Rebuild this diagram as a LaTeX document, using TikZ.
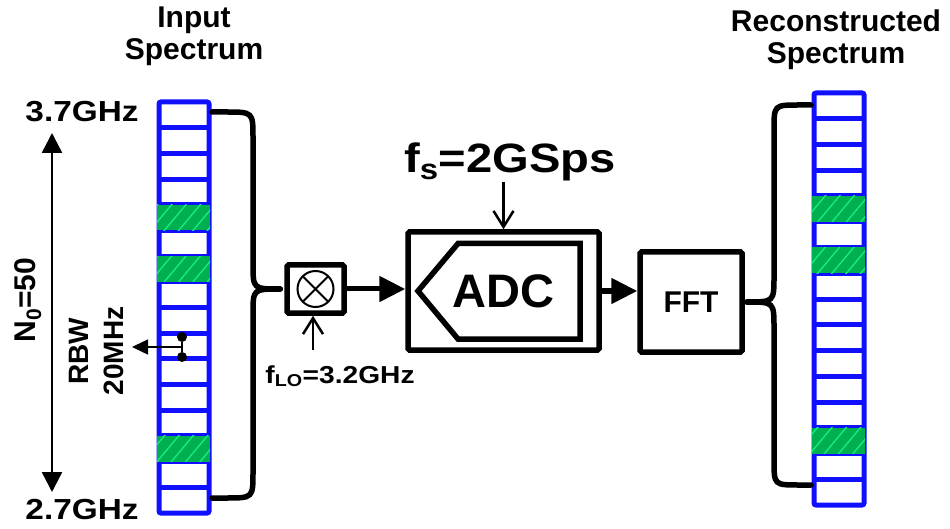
\documentclass[tikz,border=0pt]{standalone}
\usepackage{fontspec}
\setmainfont{Liberation Sans}
\newfontfamily\widesans[FakeStretch=1.15]{Liberation Sans}
\usetikzlibrary{arrows.meta,patterns.meta,positioning}

\definecolor{binblue}{RGB}{16,16,255}
\definecolor{bingreen}{RGB}{0,176,80}
\definecolor{hatchgreen}{RGB}{20,240,130}

\tikzset{
  lbl/.style={inner sep=0pt, font=\bfseries\fontsize{30}{32}\selectfont},
  widelbl/.style={inner sep=0pt, font=\widesans\bfseries\fontsize{#1}{#1}\selectfont},
  blk/.style={draw, line width=5.5pt, rounded corners=1.5pt, inner sep=0pt},
  bin/.style={binblue, line width=5pt},
  hit/.style={fill=bingreen, postaction={pattern={Lines[angle=50,distance=11pt,line width=1.3pt]}, pattern color=hatchgreen}},
  brace/.style={line width=5.5pt, line cap=round},
  sig/.style={line width=5pt, -{Triangle[length=26pt,width=25pt]}},
  ctrl/.style={line width=2.5pt, -{Straight Barb[length=16pt,width=20pt]}},
  dot/.style={circle, fill, inner sep=0pt, minimum size=10pt},
}

\begin{document}
\begin{tikzpicture}[x=1pt,y=-1pt]
\useasboundingbox (0,0) rectangle (950,529);
\def\inL{159}    % input bins left x
\def\inR{209}    % input bins right x
\def\inT{102}    % input bins top y
\def\inH{25.69}  % input bin height
\def\outL{814}   % output bins left x
\def\outR{864}   % output bins right x
\def\outT{93}    % output bins top y
\def\outH{25.75} % output bin height
%% Input spectrum: 16 bins, occupied ones in green
\draw[bin, rounded corners=2pt] (\inL,\inT) rectangle (\inR,\inT+16*\inH);
\foreach \k in {1,...,15}
  \draw[bin] (\inL,\inT+\k*\inH) -- (\inR,\inT+\k*\inH);
\foreach \k in {4,6,13}
  \fill[hit] (\inL-2,\inT+\k*\inH) rectangle (\inR+1,\inT+\k*\inH+\inH);
\node[lbl, align=center] (inttl) at (194,36) {Input\\Spectrum};
\node[widelbl=29, anchor=base] (fhi) at (82,122) {3.7GHz};
\node[widelbl=29, anchor=base] (flow) at (82,519) {2.7GHz};
%% Band span arrow
\coordinate (nhi) at (52,133);
\coordinate (nlo) at (52,492);
\draw[line width=2.5pt, {Triangle[length=20pt,width=20pt]}-{Triangle[length=20pt,width=20pt]}] (nhi) -- (nlo);
\node[lbl, rotate=90, anchor=base] (nbins) at (35,300) {N\textsubscript{0}=50};
%% Resolution bandwidth marker
\node[dot] (rbwa) at (182,337) {};
\node[dot] (rbwb) at (182,357) {};
\draw[line width=1.5pt] (rbwa) -- (rbwb);
\coordinate (rbwtip) at (132,347);
\draw[line width=1.5pt, -{Triangle[length=16pt,width=15pt]}] (rbwa |- rbwtip) -- (rbwtip);
\node[lbl, font=\bfseries\fontsize{28}{35}\selectfont, rotate=90, align=center] (rbw) at (97,351) {RBW\\20MHz};
%% Mixer
\node[blk, minimum width=57pt, minimum height=48pt] (mix) at (315.5,289) {};
\node[draw, circle, line width=2pt, minimum size=36pt, inner sep=0pt, outer sep=0pt] (mixsym) at (mix) {};
\draw[line width=2pt] (mixsym.north west) -- (mixsym.south east)
                      (mixsym.north east) -- (mixsym.south west);
\node[widelbl=24.5, anchor=base] (flo) at (340,383) {f\textsubscript{LO}=3.2GHz};
\coordinate (lotail) at (313,350);
\draw[ctrl] (lotail) -- (lotail |- mix.south);
%% Input brace into mixer
\coordinate (inhi) at (\inR+3,112);
\coordinate (inlo) at (\inR+3,498);
\draw[brace] (inhi) -- ++(14,0) .. controls (253,112) .. (253,138)
  -- (253,264) .. controls (253,289) .. ([xshift=-4pt]mix.west);
\draw[brace] (inlo) -- ++(14,0) .. controls (253,498) .. (253,472)
  -- (253,314) .. controls (253,289) .. ([xshift=-4pt]mix.west);
%% ADC
\node[blk, minimum width=191pt, minimum height=118pt, font=\bfseries\fontsize{47}{47}\selectfont] (adc) at (503.5,291) {ADC};
\draw[line width=5.5pt, line join=miter] (418,291) -- (458,243.5) -- (580,243.5)
  -- (580,339) -- (458,339) -- cycle;
\node[widelbl=41, anchor=base] (fs) at (510,173) {f\textsubscript{s}=2GSps};
\draw[ctrl] (fs.south -| adc.north) -- (adc.north);
\draw[sig] (mix.east) -- (mix.east -| adc.west);
%% FFT
\node[blk, minimum width=102pt, minimum height=100pt, font=\bfseries\fontsize{30}{30}\selectfont] (fft) at (691,302) {FFT};
\draw[sig] (adc.east) -- (adc.east -| fft.west);
%% Reconstructed spectrum
\draw[bin, rounded corners=2pt] (\outL,\outT) rectangle (\outR,\outT+16*\outH);
\foreach \k in {1,...,15}
  \draw[bin] (\outL,\outT+\k*\outH) -- (\outR,\outT+\k*\outH);
\foreach \k in {4,6,13}
  \fill[hit] (\outL-2,\outT+\k*\outH) rectangle (\outR+1,\outT+\k*\outH+\outH);
\node[lbl, align=center] (outttl) at (836,40) {Reconstructed\\Spectrum};
%% Output brace from FFT
\coordinate (outhi) at (\outL-3,105);
\coordinate (outlo) at (\outL-3,485);
\draw[brace] (outhi) -- ++(-12,0) .. controls (774,105) .. (774,130)
  -- (774,276) .. controls (774,302) .. ([xshift=2pt]fft.east);
\draw[brace] (outlo) -- ++(-12,0) .. controls (774,485) .. (774,460)
  -- (774,328) .. controls (774,302) .. ([xshift=2pt]fft.east);
\end{tikzpicture}
\end{document}
